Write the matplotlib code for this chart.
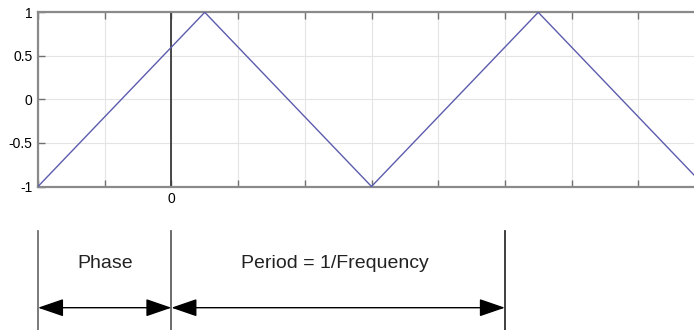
import numpy as np
import matplotlib
matplotlib.use("Agg")
import matplotlib.pyplot as plt

plt.rcParams["font.family"] = ["Liberation Sans", "DejaVu Sans"]

# triangle wave vertices (time in grid units, amplitude)
wave_t = [-2, 0.5, 3, 5.5, 8]
wave_y = [-1, 1, -1, 1, -1]

phase = 2.0
period = 5.0
x_ticks = np.arange(-2, 9, 1)
y_ticks = [-1, -0.5, 0, 0.5, 1]
y_tick_labels = ["-1", "-0.5", "0", "0.5", "1"]

W, H = 694, 330
fig = plt.figure(figsize=(W / 100, H / 100), dpi=100)

# waveform axes (right edge runs past the figure)
left, top, bottom = 38, 12.3, 186.5
unit = 66.7
ax = fig.add_axes([left / W, (H - bottom) / H, 10 * unit / W, (bottom - top) / H])
ax.plot(wave_t, wave_y, color="#5c5cae", lw=1.0, zorder=3)
ax.axvline(0, color="#3a3a3a", lw=1.3, zorder=2)
ax.set_xlim(-2, 8)
ax.set_ylim(-1, 1)
ax.set_xticks(x_ticks)
ax.set_xticklabels(["0" if t == 0 else "" for t in x_ticks])
ax.set_yticks(y_ticks)
ax.set_yticklabels(y_tick_labels)
ax.grid(color="#e4e4e4", lw=0.8)
ax.tick_params(direction="in", length=5, width=1, color="#707070",
               labelsize=10, top=True, pad=4)
for s in ax.spines.values():
    s.set_color("#8a8a8a")
    s.set_linewidth(1.6)

# phase / period annotation below the plot
ax2 = fig.add_axes([left / W, 0, 10 * unit / W, 102 / H])
ax2.set_xlim(-2, 8)
ax2.set_ylim(0, 102)
ax2.axis("off")
for xv, c in [(-phase, "#707070"), (0, "#606060"), (period, "#303030")]:
    ax2.plot([xv, xv], [0, 99], color=c, lw=1.3, clip_on=False)

arrow_y = 330 - 307.7
text_y = 330 - 263
arw = dict(arrowstyle="<|-|>,head_length=1.6,head_width=0.55", color="black",
           lw=1.0, shrinkA=0, shrinkB=0)
ax2.annotate("", xy=(-phase, arrow_y), xytext=(0, arrow_y), arrowprops=arw)
ax2.annotate("", xy=(0, arrow_y), xytext=(period, arrow_y), arrowprops=arw)
ax2.text(-phase / 2, text_y, "Phase", ha="center", va="center", fontsize=14, color="#222222")
ax2.text(period / 2 - 0.05, text_y, "Period = 1/Frequency", ha="center", va="center",
         fontsize=14, color="#222222")

fig.savefig("out.png", dpi=100)
